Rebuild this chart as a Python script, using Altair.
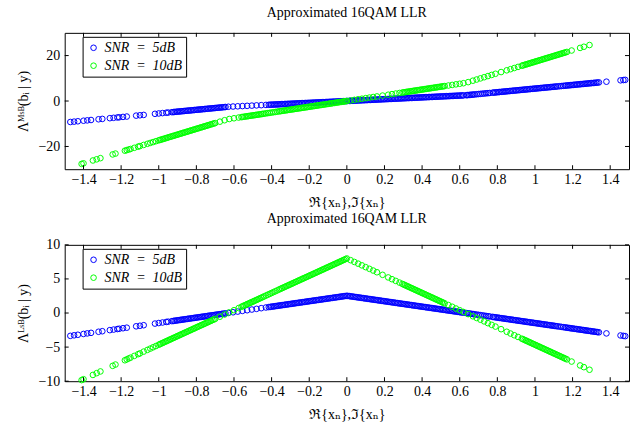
import altair as alt
import pandas as pd

FONT = "Liberation Serif, DejaVu Serif, serif"

series_names = ["SNR\u2002=\u20025dB", "SNR\u2002=\u200210dB"]
series_colors = ["#0000ff", "#00ff00"]
chart_title = "Approximated 16QAM LLR"
x_title = "ℜ{xₙ},ℑ{xₙ}"
msb_title = "Λᴹˢᴮ(bᵢ | y)"
lsb_title = "Λᴸˢᴮ(bᵢ | y)"

x_ticks = [-1.4, -1.2, -1.0, -0.8, -0.6, -0.4, -0.2, 0.0, 0.2, 0.4, 0.6, 0.8, 1.0, 1.2, 1.4]
msb_ticks = [-20, 0, 20]
lsb_ticks = [-10, -5, 0, 5, 10]
x_range = [-1.5, 1.5]
msb_range = [-30, 30]
lsb_range = [-10, 10]

# ---------------- SNR = 5dB samples ----------------
x_5db = [
    -1.47, -1.45, -1.43, -1.40, -1.38, -1.36, -1.32, -1.30, -1.26, -1.24,
    -1.22, -1.21, -1.19, -1.17, -1.12, -1.10, -1.08, -1.02, -1.00, -0.98,
    -0.96, -0.95, -0.93, -0.915, -0.90, -0.885, -0.87, -0.855, -0.84, -0.825,
    -0.81, -0.795, -0.78, -0.765, -0.75, -0.735, -0.72, -0.705, -0.69, -0.675,
    -0.66, -0.645, -0.63, -0.605, -0.58, -0.555, -0.53, -0.505, -0.48, -0.455,
    -0.43, -0.415, -0.40, -0.385, -0.37, -0.355, -0.34, -0.325, -0.31, -0.295,
    -0.28, -0.265, -0.25, -0.235, -0.22, -0.205, -0.19, -0.175, -0.16, -0.145,
    -0.13, -0.115, -0.10, -0.085, -0.07, -0.055, -0.04, -0.025, -0.01, 0.005,
    0.02, 0.035, 0.05, 0.065, 0.08, 0.095, 0.11, 0.125, 0.14, 0.155,
    0.17, 0.185, 0.20, 0.215, 0.23, 0.245, 0.26, 0.275, 0.29, 0.305,
    0.32, 0.335, 0.35, 0.365, 0.38, 0.395, 0.41, 0.425, 0.44, 0.455,
    0.47, 0.485, 0.50, 0.515, 0.53, 0.545, 0.56, 0.575, 0.59, 0.605,
    0.62, 0.635, 0.65, 0.665, 0.68, 0.70, 0.72, 0.74, 0.76, 0.775,
    0.79, 0.805, 0.82, 0.835, 0.85, 0.865, 0.88, 0.895, 0.91, 0.925,
    0.94, 0.955, 0.97, 0.985, 1.00, 1.015, 1.03, 1.045, 1.06, 1.075,
    1.09, 1.105, 1.12, 1.14, 1.16, 1.175, 1.19, 1.205, 1.22, 1.235,
    1.25, 1.265, 1.28, 1.295, 1.31, 1.325, 1.34, 1.38, 1.455, 1.47,
    1.48,
]
msb_5db = [
    -9.23, -9.07, -8.91, -8.67, -8.51, -8.35, -8.03, -7.87, -7.55, -7.39,
    -7.23, -7.15, -6.99, -6.83, -6.43, -6.27, -6.11, -5.63, -5.47, -5.31,
    -5.15, -5.07, -4.91, -4.79, -4.67, -4.55, -4.43, -4.31, -4.19, -4.07,
    -3.95, -3.83, -3.71, -3.59, -3.47, -3.35, -3.23, -3.11, -2.99, -2.87,
    -2.75, -2.63, -2.52, -2.42, -2.32, -2.22, -2.12, -2.02, -1.92, -1.82,
    -1.72, -1.66, -1.60, -1.54, -1.48, -1.42, -1.36, -1.30, -1.24, -1.18,
    -1.12, -1.06, -1.00, -0.94, -0.88, -0.82, -0.76, -0.70, -0.64, -0.58,
    -0.52, -0.46, -0.40, -0.34, -0.28, -0.22, -0.16, -0.10, -0.04, 0.02,
    0.08, 0.14, 0.20, 0.26, 0.32, 0.38, 0.44, 0.50, 0.56, 0.62,
    0.68, 0.74, 0.80, 0.86, 0.92, 0.98, 1.04, 1.10, 1.16, 1.22,
    1.28, 1.34, 1.40, 1.46, 1.52, 1.58, 1.64, 1.70, 1.76, 1.82,
    1.88, 1.94, 2.00, 2.06, 2.12, 2.18, 2.24, 2.30, 2.36, 2.42,
    2.48, 2.55, 2.67, 2.79, 2.91, 3.07, 3.23, 3.39, 3.55, 3.67,
    3.79, 3.91, 4.03, 4.15, 4.27, 4.39, 4.51, 4.63, 4.75, 4.87,
    4.99, 5.11, 5.23, 5.35, 5.47, 5.59, 5.71, 5.83, 5.95, 6.07,
    6.19, 6.31, 6.43, 6.59, 6.75, 6.87, 6.99, 7.11, 7.23, 7.35,
    7.47, 7.59, 7.71, 7.83, 7.95, 8.07, 8.19, 8.51, 9.11, 9.23,
    9.31,
]
lsb_5db = [
    -3.35, -3.27, -3.19, -3.07, -2.99, -2.91, -2.75, -2.67, -2.51, -2.43,
    -2.35, -2.31, -2.23, -2.15, -1.95, -1.87, -1.79, -1.55, -1.47, -1.39,
    -1.31, -1.27, -1.19, -1.13, -1.07, -1.01, -0.95, -0.89, -0.83, -0.77,
    -0.71, -0.65, -0.59, -0.53, -0.47, -0.41, -0.35, -0.29, -0.23, -0.17,
    -0.11, -0.05, 0.01, 0.11, 0.21, 0.31, 0.41, 0.51, 0.61, 0.71,
    0.81, 0.87, 0.93, 0.99, 1.05, 1.11, 1.17, 1.23, 1.29, 1.35,
    1.41, 1.47, 1.53, 1.59, 1.65, 1.71, 1.77, 1.83, 1.89, 1.95,
    2.01, 2.07, 2.13, 2.19, 2.25, 2.31, 2.37, 2.43, 2.49, 2.51,
    2.45, 2.39, 2.33, 2.27, 2.21, 2.15, 2.09, 2.03, 1.97, 1.91,
    1.85, 1.79, 1.73, 1.67, 1.61, 1.55, 1.49, 1.43, 1.37, 1.31,
    1.25, 1.19, 1.13, 1.07, 1.01, 0.95, 0.89, 0.83, 0.77, 0.71,
    0.65, 0.59, 0.53, 0.47, 0.41, 0.35, 0.29, 0.23, 0.17, 0.11,
    0.05, -0.01, -0.07, -0.13, -0.19, -0.27, -0.35, -0.43, -0.51, -0.57,
    -0.63, -0.69, -0.75, -0.81, -0.87, -0.93, -0.99, -1.05, -1.11, -1.17,
    -1.23, -1.29, -1.35, -1.41, -1.47, -1.53, -1.59, -1.65, -1.71, -1.77,
    -1.83, -1.89, -1.95, -2.03, -2.11, -2.17, -2.23, -2.29, -2.35, -2.41,
    -2.47, -2.53, -2.59, -2.65, -2.71, -2.77, -2.83, -2.99, -3.29, -3.35,
    -3.39,
]
x_5db_dense = [
    -0.922, -0.907, -0.892, -0.877, -0.862, -0.847, -0.832, -0.817, -0.802, -0.787,
    -0.772, -0.757, -0.742, -0.727, -0.712, -0.697, -0.682, -0.667, -0.652,
    -0.407, -0.392, -0.377, -0.362, -0.347, -0.332, -0.317, -0.302, -0.287, -0.272,
    -0.257, -0.242, -0.227, -0.212, -0.197, -0.182, -0.167, -0.152, -0.137, -0.122,
    -0.107, -0.092, -0.077, -0.062, -0.047, -0.032, -0.017, -0.002,
    0.013, 0.028, 0.043, 0.058, 0.073, 0.088, 0.103, 0.118, 0.133, 0.148,
    0.163, 0.178, 0.193, 0.208, 0.223, 0.238, 0.253, 0.268, 0.283, 0.298,
    0.313, 0.328, 0.343, 0.358, 0.373, 0.388, 0.403, 0.418, 0.433, 0.448,
    0.463, 0.478, 0.493, 0.508, 0.523, 0.538, 0.553, 0.568, 0.583, 0.598,
    0.613, 0.642, 0.657, 0.672, 0.69, 0.71, 0.73, 0.75,
    0.782, 0.797, 0.812, 0.827, 0.842, 0.857, 0.872, 0.887, 0.902, 0.917,
    0.932, 0.947, 0.962, 0.977, 0.992, 1.007, 1.022, 1.037, 1.052, 1.067,
    1.082, 1.097, 1.112, 1.13, 1.15, 1.167, 1.182, 1.197, 1.212, 1.227,
    1.242, 1.257, 1.272, 1.287, 1.302, 1.317, 1.332,
]
msb_5db_dense = [
    -4.85, -4.73, -4.61, -4.49, -4.37, -4.25, -4.13, -4.01, -3.89, -3.77,
    -3.65, -3.53, -3.41, -3.29, -3.17, -3.05, -2.93, -2.81, -2.69,
    -1.63, -1.57, -1.51, -1.45, -1.39, -1.33, -1.27, -1.21, -1.15, -1.09,
    -1.03, -0.97, -0.91, -0.85, -0.79, -0.73, -0.67, -0.61, -0.55, -0.49,
    -0.43, -0.37, -0.31, -0.25, -0.19, -0.13, -0.07, -0.01,
    0.05, 0.11, 0.17, 0.23, 0.29, 0.35, 0.41, 0.47, 0.53, 0.59,
    0.65, 0.71, 0.77, 0.83, 0.89, 0.95, 1.01, 1.07, 1.13, 1.19,
    1.25, 1.31, 1.37, 1.43, 1.49, 1.55, 1.61, 1.67, 1.73, 1.79,
    1.85, 1.91, 1.97, 2.03, 2.09, 2.15, 2.21, 2.27, 2.33, 2.39,
    2.45, 2.61, 2.73, 2.85, 2.99, 3.15, 3.31, 3.47,
    3.73, 3.85, 3.97, 4.09, 4.21, 4.33, 4.45, 4.57, 4.69, 4.81,
    4.93, 5.05, 5.17, 5.29, 5.41, 5.53, 5.65, 5.77, 5.89, 6.01,
    6.13, 6.25, 6.37, 6.51, 6.67, 6.81, 6.93, 7.05, 7.17, 7.29,
    7.41, 7.53, 7.65, 7.77, 7.89, 8.01, 8.13,
]
lsb_5db_dense = [
    -1.16, -1.10, -1.04, -0.98, -0.92, -0.86, -0.80, -0.74, -0.68, -0.62,
    -0.56, -0.50, -0.44, -0.38, -0.32, -0.26, -0.20, -0.14, -0.08,
    0.90, 0.96, 1.02, 1.08, 1.14, 1.20, 1.26, 1.32, 1.38, 1.44,
    1.50, 1.56, 1.62, 1.68, 1.74, 1.80, 1.86, 1.92, 1.98, 2.04,
    2.10, 2.16, 2.22, 2.28, 2.34, 2.40, 2.46, 2.52,
    2.48, 2.42, 2.36, 2.30, 2.24, 2.18, 2.12, 2.06, 2.00, 1.94,
    1.88, 1.82, 1.76, 1.70, 1.64, 1.58, 1.52, 1.46, 1.40, 1.34,
    1.28, 1.22, 1.16, 1.10, 1.04, 0.98, 0.92, 0.86, 0.80, 0.74,
    0.68, 0.62, 0.56, 0.50, 0.44, 0.38, 0.32, 0.26, 0.20, 0.14,
    0.08, -0.04, -0.10, -0.16, -0.23, -0.31, -0.39, -0.47,
    -0.60, -0.66, -0.72, -0.78, -0.84, -0.90, -0.96, -1.02, -1.08, -1.14,
    -1.20, -1.26, -1.32, -1.38, -1.44, -1.50, -1.56, -1.62, -1.68, -1.74,
    -1.80, -1.86, -1.92, -1.99, -2.07, -2.14, -2.20, -2.26, -2.32, -2.38,
    -2.44, -2.50, -2.56, -2.62, -2.68, -2.74, -2.80,
]

# ---------------- SNR = 10dB samples ----------------
x_10db = [
    -1.41, -1.40, -1.35, -1.33, -1.31, -1.245, -1.23, -1.18, -1.17, -1.16,
    -1.15, -1.13, -1.11, -1.10, -1.08, -1.06, -1.045, -1.03, -1.015, -1.00,
    -0.985, -0.97, -0.955, -0.94, -0.925, -0.91, -0.895, -0.88, -0.865, -0.85,
    -0.835, -0.82, -0.805, -0.79, -0.775, -0.76, -0.745, -0.73, -0.715, -0.70,
    -0.675, -0.65, -0.625, -0.60, -0.575, -0.56, -0.545, -0.53, -0.515, -0.50,
    -0.485, -0.47, -0.455, -0.44, -0.42, -0.40, -0.38, -0.36, -0.345, -0.33,
    -0.315, -0.30, -0.285, -0.27, -0.255, -0.24, -0.225, -0.21, -0.195, -0.18,
    -0.165, -0.15, -0.135, -0.12, -0.105, -0.09, -0.075, -0.06, -0.045, -0.03,
    -0.015, 0.0, 0.02, 0.04, 0.06, 0.08, 0.10, 0.12, 0.14, 0.16,
    0.19, 0.22, 0.24, 0.26, 0.28, 0.295, 0.31, 0.325, 0.34, 0.355,
    0.37, 0.385, 0.40, 0.415, 0.43, 0.445, 0.46, 0.475, 0.49, 0.505,
    0.52, 0.54, 0.56, 0.58, 0.60, 0.62, 0.645, 0.67, 0.69, 0.71,
    0.73, 0.75, 0.77, 0.79, 0.82, 0.85, 0.87, 0.89, 0.91, 0.93,
    0.945, 0.96, 0.975, 0.99, 1.005, 1.02, 1.035, 1.05, 1.065, 1.08,
    1.095, 1.11, 1.125, 1.14, 1.155, 1.17, 1.195, 1.24, 1.26, 1.29,
]
msb_10db = [
    -27.67, -27.42, -26.16, -25.65, -25.14, -23.50, -23.12, -21.85, -21.60, -21.35,
    -21.10, -20.59, -20.08, -19.83, -19.32, -18.82, -18.44, -18.06, -17.68, -17.30,
    -16.92, -16.54, -16.16, -15.78, -15.40, -15.02, -14.64, -14.26, -13.88, -13.51,
    -13.13, -12.75, -12.37, -11.99, -11.61, -11.23, -10.85, -10.47, -10.09, -9.71,
    -9.08, -8.45, -7.91, -7.59, -7.27, -7.08, -6.89, -6.70, -6.51, -6.33,
    -6.14, -5.95, -5.76, -5.57, -5.31, -5.06, -4.81, -4.55, -4.36, -4.17,
    -3.98, -3.80, -3.61, -3.42, -3.23, -3.04, -2.85, -2.66, -2.47, -2.28,
    -2.09, -1.90, -1.71, -1.52, -1.33, -1.14, -0.95, -0.76, -0.57, -0.38,
    -0.19, 0.00, 0.25, 0.51, 0.76, 1.01, 1.27, 1.52, 1.77, 2.02,
    2.40, 2.78, 3.04, 3.29, 3.54, 3.73, 3.92, 4.11, 4.30, 4.49,
    4.68, 4.87, 5.06, 5.25, 5.44, 5.63, 5.82, 6.01, 6.20, 6.39,
    6.58, 6.83, 7.08, 7.34, 7.59, 7.84, 8.32, 8.95, 9.46, 9.96,
    10.47, 10.98, 11.48, 11.99, 12.75, 13.51, 14.01, 14.52, 15.02, 15.53,
    15.91, 16.29, 16.67, 17.05, 17.43, 17.81, 18.19, 18.57, 18.94, 19.32,
    19.70, 20.08, 20.46, 20.84, 21.22, 21.60, 22.23, 23.37, 23.88, 24.64,
]
lsb_10db = [
    -9.84, -9.71, -9.08, -8.82, -8.57, -7.75, -7.56, -6.93, -6.80, -6.67,
    -6.55, -6.29, -6.04, -5.92, -5.66, -5.41, -5.22, -5.03, -4.84, -4.65,
    -4.46, -4.27, -4.08, -3.89, -3.70, -3.51, -3.32, -3.13, -2.94, -2.75,
    -2.56, -2.37, -2.18, -1.99, -1.80, -1.61, -1.42, -1.23, -1.04, -0.86,
    -0.54, -0.22, 0.09, 0.41, 0.73, 0.92, 1.11, 1.30, 1.49, 1.67,
    1.86, 2.05, 2.24, 2.43, 2.69, 2.94, 3.19, 3.45, 3.64, 3.83,
    4.02, 4.20, 4.39, 4.58, 4.77, 4.96, 5.15, 5.34, 5.53, 5.72,
    5.91, 6.10, 6.29, 6.48, 6.67, 6.86, 7.05, 7.24, 7.43, 7.62,
    7.81, 8.00, 7.75, 7.49, 7.24, 6.99, 6.73, 6.48, 6.23, 5.98,
    5.60, 5.22, 4.96, 4.71, 4.46, 4.27, 4.08, 3.89, 3.70, 3.51,
    3.32, 3.13, 2.94, 2.75, 2.56, 2.37, 2.18, 1.99, 1.80, 1.61,
    1.42, 1.17, 0.92, 0.66, 0.41, 0.16, -0.16, -0.48, -0.73, -0.98,
    -1.23, -1.49, -1.74, -1.99, -2.37, -2.75, -3.01, -3.26, -3.51, -3.76,
    -3.95, -4.14, -4.33, -4.52, -4.71, -4.90, -5.09, -5.28, -5.47, -5.66,
    -5.85, -6.04, -6.23, -6.42, -6.61, -6.80, -7.12, -7.69, -7.94, -8.32,
]
x_10db_dense = [
    -0.993, -0.978, -0.963, -0.948, -0.933, -0.918, -0.903, -0.888, -0.873, -0.858,
    -0.843, -0.828, -0.813, -0.798, -0.783, -0.768, -0.753, -0.738, -0.723, -0.708,
    -0.553, -0.538, -0.523, -0.508, -0.493, -0.478, -0.463, -0.448, -0.43, -0.41,
    -0.39, -0.37, -0.352, -0.337, -0.322, -0.307, -0.292, -0.277, -0.262, -0.247,
    -0.232, -0.217, -0.202, -0.187, -0.172, -0.157, -0.142, -0.127, -0.112, -0.097,
    -0.082, -0.067, -0.052, -0.037, -0.022, -0.007,
    0.302, 0.317, 0.332, 0.347, 0.362, 0.377, 0.392, 0.407, 0.422, 0.437,
    0.452, 0.467, 0.482, 0.497, 0.512,
    0.937, 0.952, 0.967, 0.982, 0.997, 1.012, 1.027, 1.042, 1.057, 1.072,
    1.087, 1.102, 1.117, 1.132, 1.147, 1.162,
]
msb_10db_dense = [
    -17.12, -16.74, -16.36, -15.98, -15.60, -15.23, -14.85, -14.47, -14.09, -13.71,
    -13.33, -12.95, -12.57, -12.19, -11.81, -11.43, -11.05, -10.67, -10.29, -9.91,
    -7.00, -6.81, -6.62, -6.43, -6.24, -6.05, -5.86, -5.67, -5.44, -5.19,
    -4.93, -4.68, -4.45, -4.26, -4.07, -3.88, -3.69, -3.50, -3.31, -3.12,
    -2.93, -2.75, -2.56, -2.37, -2.18, -1.99, -1.80, -1.61, -1.42, -1.23,
    -1.04, -0.85, -0.66, -0.47, -0.28, -0.09,
    3.82, 4.01, 4.20, 4.39, 4.58, 4.77, 4.96, 5.15, 5.34, 5.53,
    5.72, 5.91, 6.10, 6.29, 6.48,
    15.71, 16.09, 16.47, 16.84, 17.22, 17.60, 17.98, 18.36, 18.74, 19.12,
    19.50, 19.88, 20.26, 20.64, 21.02, 21.40,
]
lsb_10db_dense = [
    -4.56, -4.37, -4.18, -3.99, -3.80, -3.61, -3.42, -3.23, -3.04, -2.85,
    -2.66, -2.47, -2.28, -2.09, -1.90, -1.72, -1.53, -1.34, -1.15, -0.96,
    1.00, 1.19, 1.38, 1.57, 1.76, 1.95, 2.14, 2.33, 2.56, 2.81,
    3.07, 3.32, 3.55, 3.74, 3.93, 4.12, 4.31, 4.50, 4.69, 4.88,
    5.07, 5.25, 5.44, 5.63, 5.82, 6.01, 6.20, 6.39, 6.58, 6.77,
    6.96, 7.15, 7.34, 7.53, 7.72, 7.91,
    4.18, 3.99, 3.80, 3.61, 3.42, 3.23, 3.04, 2.85, 2.66, 2.47,
    2.28, 2.09, 1.90, 1.71, 1.52,
    -3.85, -4.04, -4.23, -4.42, -4.61, -4.80, -4.99, -5.18, -5.37, -5.56,
    -5.75, -5.94, -6.13, -6.32, -6.51, -6.70,
]


def frame(xs, ms, ls, name):
    d = pd.DataFrame({"x": xs, "msb": ms, "lsb": ls})
    d["series"] = name
    return d


df = pd.concat(
    [
        frame(x_5db, msb_5db, lsb_5db, series_names[0]),
        frame(x_5db_dense, msb_5db_dense, lsb_5db_dense, series_names[0]),
        frame(x_10db, msb_10db, lsb_10db, series_names[1]),
        frame(x_10db_dense, msb_10db_dense, lsb_10db_dense, series_names[1]),
    ],
    ignore_index=True,
)

W, H = 567, 137
TICK = 4


def panel(ycol, ytitle, ydomain, yticks):
    sx = alt.Scale(domain=x_range, nice=False, zero=False)
    sy = alt.Scale(domain=ydomain, nice=False, zero=False)
    ax = alt.Axis(values=x_ticks, format="~r", title=x_title)
    ay = alt.Axis(values=yticks, format="~r", title=ytitle)
    pts = alt.Chart(df).mark_point(
        shape="circle", filled=False, size=32, strokeWidth=1, opacity=1
    ).encode(
        x=alt.X("x:Q", scale=sx, axis=ax),
        y=alt.Y(f"{ycol}:Q", scale=sy, axis=ay),
        color=alt.Color(
            "series:N",
            scale=alt.Scale(domain=series_names, range=series_colors),
            legend=alt.Legend(
                title=None, orient="none", legendX=18, legendY=4,
                symbolType="circle", symbolSize=32, symbolStrokeWidth=1,
                labelOffset=4,
            ),
        ),
    )
    tx = pd.DataFrame({"t": x_ticks})
    ty = pd.DataFrame({"t": yticks})
    rs = dict(color="black", strokeWidth=1)
    top_t = alt.Chart(tx).mark_rule(**rs).encode(
        x=alt.X("t:Q", scale=sx, axis=ax), y=alt.value(0), y2=alt.value(TICK))
    bot_t = alt.Chart(tx).mark_rule(**rs).encode(
        x=alt.X("t:Q", scale=sx, axis=ax), y=alt.value(H), y2=alt.value(H - TICK))
    left_t = alt.Chart(ty).mark_rule(**rs).encode(
        y=alt.Y("t:Q", scale=sy, axis=ay), x=alt.value(0), x2=alt.value(TICK))
    right_t = alt.Chart(ty).mark_rule(**rs).encode(
        y=alt.Y("t:Q", scale=sy, axis=ay), x=alt.value(W), x2=alt.value(W - TICK))
    return alt.layer(pts, top_t, bot_t, left_t, right_t).properties(
        width=W, height=H, title=chart_title)


top = panel("msb", msb_title, msb_range, msb_ticks)
bottom = panel("lsb", lsb_title, lsb_range, lsb_ticks)

chart = (
    alt.vconcat(top, bottom, spacing=1)
    .resolve_scale(color="independent")
    .resolve_legend(color="independent")
    .properties(padding={"left": 16, "top": 5, "right": 0, "bottom": 0})
    .configure(font=FONT)
    .configure_view(stroke="black", strokeWidth=1)
    .configure_axis(
        labelFont=FONT, labelFontSize=14, labelColor="black",
        titleFont=FONT, titleFontSize=14, titleFontWeight="normal", titleColor="black",
        domain=False, ticks=False, tickSize=0, grid=False,
    )
    .configure_axisX(labelPadding=3, titlePadding=9)
    .configure_axisY(labelPadding=5, titlePadding=7)
    .configure_legend(
        labelFont=FONT, labelFontSize=14, labelFontStyle="italic", labelColor="black",
        padding=4, rowPadding=4, strokeColor="black", fillColor="white",
    )
    .configure_title(font=FONT, fontSize=14, fontWeight="normal", color="black",
                     anchor="middle", offset=12)
)

chart.save("out.html", embed_options={"renderer": "svg", "actions": False})
